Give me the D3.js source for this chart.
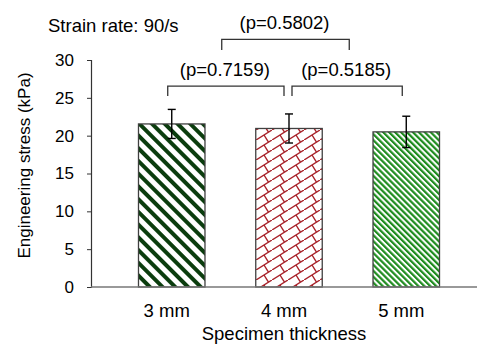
<!DOCTYPE html>
<html>
<head>
<meta charset="utf-8">
<script src="https://cdn.jsdelivr.net/npm/d3@7"></script>
<style>
  html, body { margin: 0; padding: 0; background: #fff; }
  svg { display: block; font-family: Arial, "Liberation Sans", sans-serif; }
</style>
</head>
<body>
<svg id="chart" width="477" height="345"></svg>
<script>
// Engineering stress per specimen thickness, strain rate 90/s
const categories = ["3 mm", "4 mm", "5 mm"];
const stressMean = [21.55, 20.95, 20.5];
const stressErr = [1.92, 1.92, 2.07];
const yTicks = [0, 5, 10, 15, 20, 25, 30];
// pairwise comparisons: [first bar, second bar, label]
const comparisons = [
  [0, 1, "(p=0.7159)"],
  [1, 2, "(p=0.5185)"],
  [0, 2, "(p=0.5802)"]
];

const W = 477, H = 345;
const plotLeft = 91, plotTop = 60, plotBottom = 287;

const svg = d3.select("#chart");

const x = d3.scaleBand()
  .domain(categories)
  .range([plotLeft, 487])
  .paddingInner(0.433)
  .paddingOuter(0.405);

const y = d3.scaleLinear().domain([0, 30]).range([plotBottom, plotTop]);

// fill patterns for each bar
const defs = svg.append("defs");

// dark green wide diagonal stripes
const p1 = defs.append("pattern")
  .attr("id", "pat0").attr("patternUnits", "userSpaceOnUse")
  .attr("width", 9).attr("height", 9)
  .attr("patternTransform", "rotate(-45)");
p1.append("rect").attr("width", 9).attr("height", 9).attr("fill", "#fff");
p1.append("rect").attr("x", 0).attr("width", 4).attr("height", 9).attr("fill", "#0b3d0e");

// red diagonal brick
const p2 = defs.append("pattern")
  .attr("id", "pat1").attr("patternUnits", "userSpaceOnUse")
  .attr("width", 16).attr("height", 10);
p2.append("rect").attr("width", 16).attr("height", 10).attr("fill", "#fff");
p2.append("path")
  .attr("d", "M-1.6,11 L17.6,-1 M8,5 L12.5,12.2 M8,-5 L12.5,2.2")
  .attr("stroke", "#a8222a").attr("stroke-width", 1.4).attr("fill", "none");

// bright green fine diagonal stripes
const p3 = defs.append("pattern")
  .attr("id", "pat2").attr("patternUnits", "userSpaceOnUse")
  .attr("width", 4.2).attr("height", 4.2)
  .attr("patternTransform", "rotate(-45)");
p3.append("rect").attr("width", 4.2).attr("height", 4.2).attr("fill", "#fff");
p3.append("rect").attr("x", 0).attr("width", 2.2).attr("height", 4.2).attr("fill", "#1e8c1e");

// bars
svg.append("g").selectAll("rect")
  .data(categories)
  .join("rect")
  .attr("x", d => x(d))
  .attr("y", (d, i) => y(stressMean[i]))
  .attr("width", x.bandwidth())
  .attr("height", (d, i) => y(0) - y(stressMean[i]))
  .attr("fill", (d, i) => `url(#pat${i})`)
  .attr("stroke", "#404040")
  .attr("stroke-width", 1.3);

// error bars
const eb = svg.append("g").attr("stroke", "#000").attr("stroke-width", 1.4);
categories.forEach((c, i) => {
  const cx = x(c) + x.bandwidth() / 2;
  const y1 = y(stressMean[i] + stressErr[i]);
  const y0 = y(stressMean[i] - stressErr[i]);
  eb.append("line").attr("x1", cx).attr("x2", cx).attr("y1", y1).attr("y2", y0);
  eb.append("line").attr("x1", cx - 4).attr("x2", cx + 4).attr("y1", y1).attr("y2", y1);
  eb.append("line").attr("x1", cx - 4).attr("x2", cx + 4).attr("y1", y0).attr("y2", y0);
});

// y axis
const yAxis = svg.append("g")
  .attr("transform", `translate(${plotLeft},0)`)
  .call(d3.axisLeft(y).tickValues(yTicks).tickSize(4).tickPadding(13));
yAxis.select(".domain").attr("stroke", "#333").attr("stroke-width", 1.2);
yAxis.selectAll(".tick line").attr("stroke", "#333");
yAxis.selectAll(".tick text")
  .attr("font-size", 17).attr("fill", "#000")
  .attr("font-family", "Arial, 'Liberation Sans', sans-serif");

// x axis baseline across the plot
svg.append("line")
  .attr("x1", plotLeft).attr("x2", W)
  .attr("y1", y(0)).attr("y2", y(0))
  .attr("stroke", "#777").attr("stroke-width", 1.5);

// x category labels
svg.append("g").selectAll("text")
  .data(categories)
  .join("text")
  .attr("x", d => x(d) + x.bandwidth() / 2 - 5)
  .attr("y", 317)
  .attr("text-anchor", "middle")
  .attr("font-size", 18.5)
  .text(d => d);

// axis titles
svg.append("text")
  .attr("x", 284).attr("y", 340)
  .attr("text-anchor", "middle")
  .attr("font-size", 18.5)
  .text("Specimen thickness");

svg.append("text")
  .attr("transform", `translate(30,${(plotTop + plotBottom) / 2 - 8}) rotate(-90)`)
  .attr("text-anchor", "middle")
  .attr("font-size", 17)
  .text("Engineering stress (kPa)");

svg.append("text")
  .attr("x", 48).attr("y", 32)
  .attr("font-size", 18.5)
  .text("Strain rate: 90/s");

// significance brackets
const bracketLayout = [
  { dx0: -4, dx1: -5, level: 26.56, legs: 1.32 },
  { dx0: 3, dx1: -4, level: 26.56, legs: 1.32 },
  { dx0: 50, dx1: -57, level: 32.73, legs: 1.42 }
];
const br = svg.append("g");
comparisons.forEach(([a, b, label], k) => {
  const L = bracketLayout[k];
  const xa = x(categories[a]) + x.bandwidth() / 2 + L.dx0;
  const xb = x(categories[b]) + x.bandwidth() / 2 + L.dx1;
  const yt = y(L.level);
  const yb = y(L.level - L.legs);
  br.append("path")
    .attr("d", `M${xa},${yb} L${xa},${yt} L${xb},${yt} L${xb},${yb}`)
    .attr("fill", "none").attr("stroke", "#333").attr("stroke-width", 1.3);
  br.append("text")
    .attr("x", (xa + xb) / 2 - 1)
    .attr("y", yt - 10)
    .attr("text-anchor", "middle")
    .attr("font-size", 18.5)
    .text(label);
});
</script>
</body>
</html>
